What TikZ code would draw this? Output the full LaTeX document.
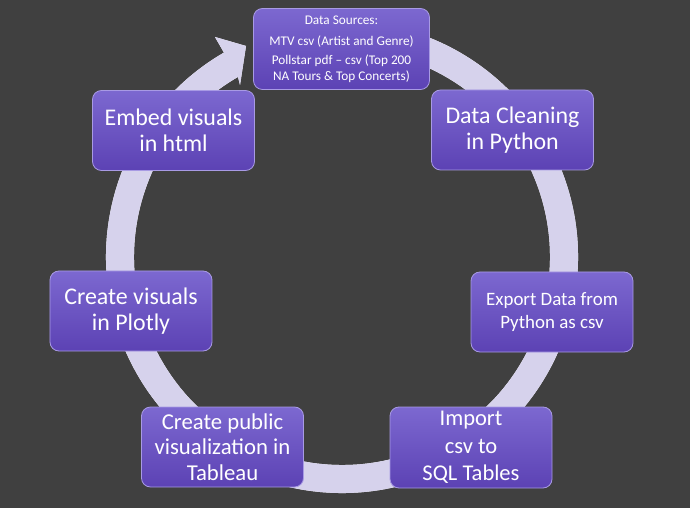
\documentclass[tikz,border=0pt]{standalone}
\usepackage{fontspec}
\setmainfont{Carlito}
\usetikzlibrary{calc}
\definecolor{bg}{RGB}{64,64,64}
\definecolor{ringc}{RGB}{214,210,236}
\definecolor{boxtop}{RGB}{124,104,208}
\definecolor{boxbot}{RGB}{92,66,180}
\definecolor{boxedge}{RGB}{168,154,228}
\begin{document}
\begin{tikzpicture}[x=1bp,y=-1bp,
  stepbox/.style={rectangle, rounded corners=9bp, draw=boxedge, line width=0.8bp,
    top color=boxtop, bottom color=boxbot, text=white, align=center,
    minimum width=162bp, minimum height=80bp, inner sep=2bp,
    font=\fontsize{24}{26}\selectfont}]
\fill[bg] (0,0) rectangle (690,508);
\useasboundingbox (0,0) rectangle (690,508);
\coordinate (c) at (342,257);
\coordinate (barbout) at (215,37);
\coordinate (tip) at (246,46);
\coordinate (barbin) at (240,85);
% highlight
\fill[white, shift={(1.6,1.6)}] ($(c)+(-80:236)$) arc[start angle=-80,end angle=240,radius=236]
  -- (barbout) -- (tip) -- (barbin) -- ($(c)+(240:208)$)
  arc[start angle=240,end angle=-80,radius=208] -- cycle;
% ring
\fill[ringc] ($(c)+(-80:236)$) arc[start angle=-80,end angle=240,radius=236]
  -- (barbout) -- (tip) -- (barbin) -- ($(c)+(240:208)$)
  arc[start angle=240,end angle=-80,radius=208] -- cycle;
% boxes
\node[stepbox, minimum width=176bp, minimum height=81bp, font=\fontsize{13.3}{16}\selectfont] (ds) at (341.5,49)
  {Data Sources:\\[5bp] MTV csv (Artist and Genre)\\[3bp] Pollstar pdf – csv (Top 200\\ NA Tours \& Top Concerts)};
\node[stepbox] (clean) at (512.5,130) {Data Cleaning\\ in Python};
\node[stepbox, font=\fontsize{19}{23}\selectfont] (export) at (552,312) {Export Data from\\ Python as csv};
\node[stepbox, minimum height=81bp, font=\fontsize{22.6}{27.5}\selectfont] (import) at (471,447.5) {Import\\ csv to\\ SQL Tables};
\node[stepbox, font=\fontsize{22.8}{25.5}\selectfont] (tableau) at (222.5,447) {Create public\\ visualization in\\ Tableau};
\node[stepbox] (plotly) at (131,311) {Create visuals\\ in Plotly};
\node[stepbox] (embed) at (173.5,130.5) {Embed visuals\\ in html};
\end{tikzpicture}
\end{document}
